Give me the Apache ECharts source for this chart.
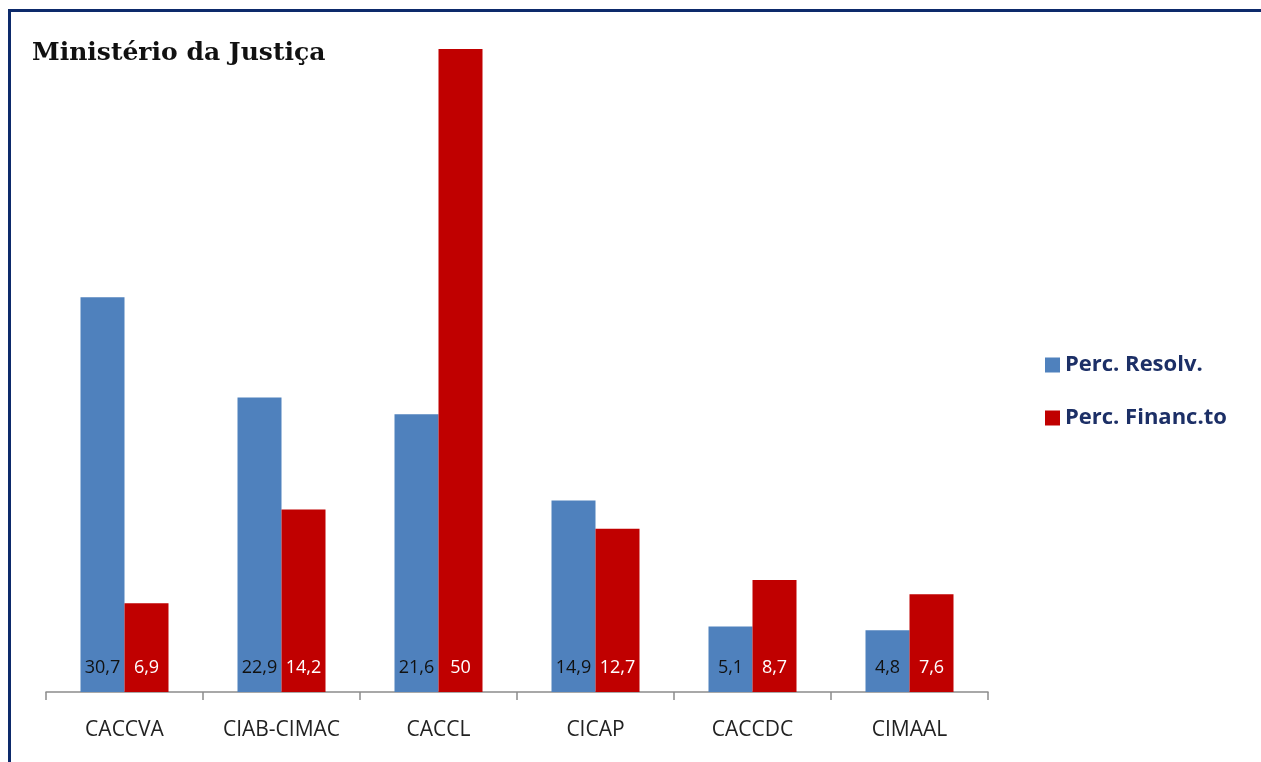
<!DOCTYPE html>
<html>
<head>
<meta charset="utf-8">
<script src="https://cdn.jsdelivr.net/npm/echarts@6/dist/echarts.min.js"></script>
<style>
    html, body { margin: 0; padding: 0; background: #fff; }
    #chart { width: 1261px; height: 762px; }
    .frame {
        position: absolute; left: 8px; top: 9px; right: 0; bottom: 0;
        border-top: 3px solid #0d2a6b; border-left: 3px solid #0d2a6b;
        pointer-events: none;
    }
</style>
</head>
<body>
<div id="chart"></div>
<div class="frame"></div>
<script>
    // dados
    var categories = ['CACCVA', 'CIAB-CIMAC', 'CACCL', 'CICAP', 'CACCDC', 'CIMAAL'];
    var percResolv = [30.7, 22.9, 21.6, 14.9, 5.1, 4.8];
    var percFinanc = [6.9, 14.2, 50, 12.7, 8.7, 7.6];

    var chart = echarts.init(document.getElementById('chart'));

    function fmt(p) {
        return String(p.value).replace('.', ',');
    }

    var option = {
        animation: false,
        title: {
            text: 'Ministério da Justiça',
            left: 27,
            top: 36,
            textStyle: {
                fontFamily: 'DejaVu Serif',
                fontWeight: 'bold',
                fontSize: 25,
                color: '#111'
            }
        },
        legend: {
            orient: 'vertical',
            left: 1040,
            top: 349,
            itemWidth: 15,
            itemHeight: 15,
            itemGap: 31,
            icon: 'rect',
            textStyle: {
                fontFamily: 'Open Sans',
                fontWeight: 'bold',
                fontSize: 22,
                color: '#1c2f66'
            },
            data: ['Perc. Resolv.', 'Perc. Financ.to']
        },
        grid: {
            left: 46,
            right: 273,
            top: 49,
            bottom: 70
        },
        xAxis: {
            type: 'category',
            data: categories,
            axisLine: { lineStyle: { color: '#8c8c8c', width: 1.5 } },
            axisTick: { show: true, interval: 0, length: 8, lineStyle: { color: '#8c8c8c', width: 1.5 } },
            axisLabel: {
                interval: 0,
                margin: 28,
                fontFamily: 'Open Sans',
                fontSize: 21,
                color: '#222'
            }
        },
        yAxis: {
            type: 'value',
            min: 0,
            max: 50,
            show: false,
            splitLine: { show: false }
        },
        series: [
            {
                name: 'Perc. Resolv.',
                type: 'bar',
                data: percResolv,
                barWidth: 44,
                barGap: '0%',
                itemStyle: { color: '#4f81bd' },
                label: {
                    show: true,
                    position: 'insideBottom',
                    distance: 15,
                    formatter: fmt,
                    fontFamily: 'Open Sans',
                    fontSize: 18,
                    color: '#111'
                }
            },
            {
                name: 'Perc. Financ.to',
                type: 'bar',
                data: percFinanc,
                barWidth: 44,
                itemStyle: { color: '#c00000' },
                label: {
                    show: true,
                    position: 'insideBottom',
                    distance: 15,
                    formatter: fmt,
                    fontFamily: 'Open Sans',
                    fontSize: 18,
                    color: '#fff'
                }
            }
        ]
    };
    chart.setOption(option);
</script>
</body>
</html>
